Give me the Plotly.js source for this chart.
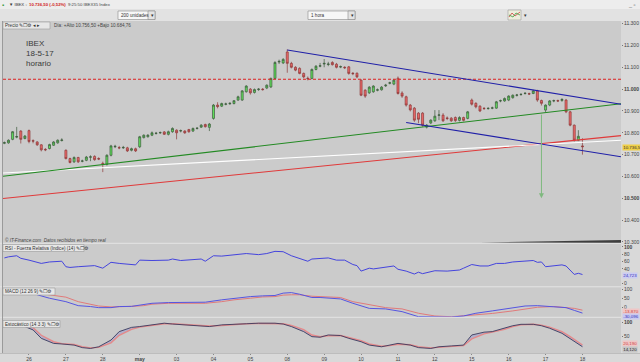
<!DOCTYPE html>
<html><head><meta charset="utf-8">
<script src="https://cdn.plot.ly/plotly-3.0.1.min.js"></script>
<style>html,body{margin:0;padding:0;background:#d9d9d9;}#chart{width:640px;height:362px;}</style>
</head><body><div id="chart"></div>
<script>
// ---------- DATA ----------
const dayLabels = ["26","27","28","may","03","04","05","08","09","10","11","12","15","16","17","18"];
const BARS_PER_DAY = 9;
const FIRST_BAR = -6;   // 6 hourly bars of 25 Apr before the first labelled day

const opens = [10752,10754,10770,10780,10808,10774,
10810,10764,10758,10745,10724,10728,10743,10754,10765,
10720,10682,10667,10687,10670,10674,10688,10692,10682,
10660,10656,10697,10736,10732,10731,10731,10720,10727,
10736,10778,10782,10789,10797,10800,10804,10793,10805,
10812,10808,10808,10815,10808,10820,10826,10838,10825,
10866,10927,10922,10931,10933,10934,10950,10950,10988,
11000,10985,10998,11000,11005,11010,11049,11124,11120,
11170,11118,11100,11095,11072,11050,11049,11090,11105,
11115,11113,11122,11114,11101,11100,11102,11073,11073,
11041,10995,10983,10988,10995,10997,11015,11027,11023,
11050,10982,10965,10927,10913,10890,10890,10826,10845,
10855,10880,10881,10868,10867,10870,10857,10870,10866,
10950,10935,10922,10912,10911,10913,10913,10946,10946,
10950,10961,10972,10975,10980,10979,10980,10992,10948,
10904,10927,10946,10947,10948,10950,10896,10835,10766,
10740];
const highs = [10760,10770,10808,10827,10812,10790,
10815,10770,10762,10748,10730,10750,10762,10770,10775,
10724,10686,10692,10690,10677,10694,10697,10697,10688,
10668,10702,10745,10745,10740,10740,10736,10732,10732,
10786,10793,10794,10806,10804,10806,10808,10810,10825,
10816,10815,10812,10818,10824,10826,10840,10842,10845,
10932,10940,10938,10938,10940,10950,10970,10996,11018,
11005,11003,11005,11005,11022,11053,11128,11135,11142,
11182,11125,11105,11100,11076,11058,11095,11110,11120,
11138,11125,11128,11120,11108,11105,11106,11078,11076,
11045,11000,11014,11018,11003,11014,11024,11034,11046,
11058,10990,10970,10932,10918,10895,10895,10840,10862,
10904,10904,10890,10875,10872,10875,10876,10874,10900,
10957,10940,10926,10918,10917,10920,10946,10952,10962,
10972,10976,10978,10981,10986,10984,10997,10997,10952,
10930,10950,10952,10952,10958,10955,10900,10838,10812,
10775];
const lows = [10748,10750,10766,10775,10751,10770,
10752,10752,10740,10715,10716,10724,10740,10750,10760,
10678,10660,10662,10662,10665,10670,10670,10672,10675,
10620,10650,10692,10730,10725,10726,10712,10715,10712,
10730,10774,10778,10785,10792,10795,10790,10788,10800,
10770,10802,10795,10800,10804,10815,10822,10824,10808,
10860,10912,10918,10926,10928,10930,10946,10946,10984,
10975,10980,10992,10993,11000,11005,11045,11115,11115,
11075,11095,11082,11068,11050,11040,11045,11086,11100,
11100,11105,11108,11095,11096,11092,11066,11064,11050,
10968,10960,10978,10983,10990,10993,11010,11022,11018,
10975,10960,10920,10898,10850,10844,10828,10820,10840,
10850,10858,10850,10858,10850,10850,10852,10852,10862,
10925,10912,10895,10905,10906,10908,10910,10940,10942,
10945,10956,10966,10970,10975,10973,10977,10942,10925,
10895,10922,10940,10941,10942,10890,10830,10760,10762,
10700];
const closes = [10755,10766,10805,10783,10770,10785,
10760,10762,10745,10722,10722,10746,10758,10766,10767,
10682,10664,10687,10667,10671,10689,10690,10677,10680,
10656,10697,10740,10738,10731,10733,10717,10727,10717,
10782,10789,10789,10800,10798,10801,10793,10805,10820,
10800,10810,10800,10805,10820,10821,10835,10828,10840,
10927,10920,10934,10932,10935,10947,10965,10992,11014,
10983,10998,11000,10998,11018,11049,11122,11127,11136,
11118,11100,11087,11072,11056,11048,11090,11105,11107,
11118,11115,11112,11100,11103,11098,11072,11071,11056,
10972,10968,11009,11014,10997,11009,11018,11029,11041,
10980,10968,10927,10905,10858,10862,10835,10835,10858,
10876,10882,10855,10866,10855,10856,10870,10857,10896,
10931,10919,10900,10911,10912,10914,10942,10947,10957,
10968,10972,10973,10976,10981,10978,10992,10950,10935,
10927,10946,10947,10946,10953,10896,10835,10766,10784,
10736.5];

const rsiBars = [-6,-5,-3,-2,0,3,5,8,9,10,12,14,16,18,20,22,24,26,27,30,34,35,37,39,42,43,45,47,50,53,56,58,60,62,64,68,69,71,73,75,77,79,80,81,83,84,87,89,90,92,94,95,96,98,99,102,103,105,106,108,110,112,114,116,118,120,123,124,125,126,128,130,131,133,134,135];
const rsiVals = [70,73,76,69,64,55,59,61,46,44,46,48,49,42,58,55,53,51,64,63,64,67,63,64,67,61,76,75,78,82,79,82,88,87,76,61,67,68,70,64,64,52,49,34,42,40,44,48,39,34,26,31,27,31,35,34,35,37,42,52,48,48,55,55,59,61,63,58,59,46,49,51,48,25,28,24.723];

const macdBars = [2,5,9,12,15,17,20,22,25,28,30,34,38,43,47,50,54,57,60,62,64,66,69,71,76,79,83,87,91,95,99,103,106,109,113,118,121,124,128,131,133,135];
const macdVals = [71,52,33,11,6,0,0,6,7,15,24,28,30,30,43,52,61,65,67,80,83,74,56,56,48,24,-4,-7,-22,-50,-53,-52,-46,-31,-18,0,9,11,6,0,-15,-30.096];
const signalVals = [80,71,58,33,19,9,4,4,7,11,19,24,24,24,33,43,52,59,61,69,71,71,63,61,56,33,15,0,-7,-31,-46,-50,-45,-40,-32,-18,-10,2,6,0,-4,-13.87];

const stochBars = [-1,1,3,6,8,11,13,15,17,20,22,25,27,30,33,35,38,42,44,47,50,53,56,60,62,64,67,69,71,73,76,78,81,83,86,88,90,93,95,98,100,103,106,108,111,113,116,118,120,123,125,127,130,132,135];
const stochK = [86,74,44,26,24,20,11,8,14,38,68,83,86,92,98,95,92,89,86,92,95,96,98,98,95,86,68,50,48,56,54,44,32,20,14,20,26,20,11,8,14,17,20,56,66,68,80,89,94,94,89,80,62,44,14.12];
const stochD = [90,82,55,32,25,22,14,10,12,28,55,76,84,90,96,96,93,90,88,90,94,96,97,98,96,90,75,56,50,53,54,47,36,24,16,18,23,21,14,10,12,15,18,42,60,66,76,86,92,94,91,84,68,50,20.19];

// drawn lines on the price panel: [x0, price0, x1, price1]
const resistLevel = 11045;
const upperChannel = [63, 11179, 144.4, 10931];
const lowerChannel = [92, 10847, 144.4, 10690];
const greenTrend = [-6.34, 10601, 144.4, 10933];
const whiteTrend = [-6.34, 10616, 144.4, 10766];
const redTrend = [-6.34, 10499, 144.4, 10787];
const targetArrow = [125, 10890, 10500];

const priceTicks = [10300,10400,10500,10600,10700,10800,10900,11000,11100,11200,11300];
const lastPrice = "10.736,5";

// ---------- LAYOUT HELPERS ----------
const W = 640, H = 362, ML = 3, MR = 19, MT = 21, MB = 9;
const PW = W - ML - MR, PH = H - MT - MB;
const px = x => (x - ML) / PW;
const py = y => (H - MB - y) / PH;
const bars = opens.map((_, k) => k + FIRST_BAR);
const fmt = n => String(n).replace(/\B(?=(\d{3})+(?!\d))/g, '.');
const FONT = "Liberation Sans, Arial, sans-serif";

const traces = [
  {type:'candlestick', x:bars, open:opens, high:highs, low:lows, close:closes,
   xaxis:'x', yaxis:'y', whiskerwidth:0, hoverinfo:'skip', showlegend:false,
   increasing:{line:{color:'#3d5a3d', width:0.7}, fillcolor:'#5fe05a'},
   decreasing:{line:{color:'#8c3a3a', width:0.7}, fillcolor:'#ec6868'}},
  {type:'scatter', mode:'lines', x:rsiBars, y:rsiVals, xaxis:'x', yaxis:'y2',
   line:{color:'#4444dd', width:1}, hoverinfo:'skip', showlegend:false},
  {type:'scatter', mode:'lines', x:macdBars, y:signalVals, xaxis:'x', yaxis:'y3',
   line:{color:'#e07a7a', width:1}, hoverinfo:'skip', showlegend:false},
  {type:'scatter', mode:'lines', x:macdBars, y:macdVals, xaxis:'x', yaxis:'y3',
   line:{color:'#5555e0', width:1}, hoverinfo:'skip', showlegend:false},
  {type:'scatter', mode:'lines', x:stochBars, y:stochD, xaxis:'x', yaxis:'y4',
   line:{color:'#e58a8a', width:1.4}, hoverinfo:'skip', showlegend:false},
  {type:'scatter', mode:'lines', x:stochBars, y:stochK, xaxis:'x', yaxis:'y4',
   fill:'tonexty', fillcolor:'rgba(80,80,210,0.22)',
   line:{color:'#3a3a5e', width:0.9}, hoverinfo:'skip', showlegend:false}
];

const yBase = {side:'right', anchor:'x', showgrid:false, zeroline:false, showline:false,
  ticks:'outside', ticklen:1, tickcolor:'#777', tickfont:{family:FONT, size:5, color:'#444'}, fixedrange:true};

function seg(c, color, width, dash) {
  return {type:'line', xref:'x', yref:'y', x0:c[0], y0:c[1], x1:c[2], y1:c[3],
          line:{color:color, width:width, dash:dash||'solid'}};
}

const shapes = [
  // toolbar
  {type:'rect', xref:'paper', yref:'paper', x0:px(0), x1:px(640), y0:py(0), y1:py(21), fillcolor:'#ededed', line:{width:0}, layer:'below'},
  {type:'rect', xref:'paper', yref:'paper', x0:px(0), x1:px(640), y0:py(9), y1:py(21), fillcolor:'#e2e2e2', line:{width:0}, layer:'below'},
  {type:'rect', xref:'paper', yref:'paper', x0:px(118), x1:px(155), y0:py(11), y1:py(19.5), fillcolor:'#f7f7f7', line:{color:'#8a8a8a', width:0.6}},
  {type:'rect', xref:'paper', yref:'paper', x0:px(148), x1:px(155), y0:py(11), y1:py(19.5), fillcolor:'#e4e4e4', line:{color:'#8a8a8a', width:0.6}},
  {type:'rect', xref:'paper', yref:'paper', x0:px(308), x1:px(355), y0:py(11), y1:py(19.5), fillcolor:'#f7f7f7', line:{color:'#8a8a8a', width:0.6}},
  {type:'rect', xref:'paper', yref:'paper', x0:px(348), x1:px(355), y0:py(11), y1:py(19.5), fillcolor:'#e4e4e4', line:{color:'#8a8a8a', width:0.6}},
  {type:'rect', xref:'paper', yref:'paper', x0:px(508), x1:px(521), y0:py(10), y1:py(20), fillcolor:'#eeeedd', line:{color:'#9a9a9a', width:0.6}},
  {type:'path', xref:'paper', yref:'paper', path:`M ${px(509)},${py(17)} L ${px(512)},${py(13)} L ${px(515)},${py(16)} L ${px(520)},${py(12)}`, line:{color:'#d04040', width:0.8}},
  {type:'path', xref:'paper', yref:'paper', path:`M ${px(509)},${py(15)} L ${px(513)},${py(17)} L ${px(516)},${py(13)} L ${px(520)},${py(15)}`, line:{color:'#40a040', width:0.8}},
  // panel borders / separators
  {type:'line', xref:'paper', yref:'paper', x0:px(0), x1:px(621), y0:py(243.3), y1:py(243.3), line:{color:'#e4e4e4', width:1}},
  {type:'line', xref:'paper', yref:'paper', x0:px(0), x1:px(621), y0:py(286.8), y1:py(286.8), line:{color:'#e4e4e4', width:1}},
  {type:'line', xref:'paper', yref:'paper', x0:px(0), x1:px(621), y0:py(317.3), y1:py(317.3), line:{color:'#e4e4e4', width:1}},
  {type:'line', xref:'paper', yref:'paper', x0:px(2.5), x1:px(2.5), y0:py(21), y1:py(353), line:{color:'#9a9a9a', width:1}},
  {type:'line', xref:'paper', yref:'paper', x0:px(0), x1:px(640), y0:py(353.5), y1:py(353.5), line:{color:'#bdbdbd', width:1}},
  // drawings on price panel
  {type:'line', xref:'paper', yref:'y', x0:0, x1:1, y0:resistLevel, y1:resistLevel, line:{color:'#dd2020', width:1.1, dash:'3px,2px'}},
  seg(redTrend, '#e03a3a', 1.1),
  seg(whiteTrend, '#ffffff', 1.1),
  seg(greenTrend, '#238a23', 1.1),
  seg(upperChannel, '#2020a8', 1.1),
  seg(lowerChannel, '#2020a8', 1.1),
  {type:'path', xref:'x', yref:'y', path:`M 110,10298 L 144.4,10309.5 L 144.4,10297 Z`, fillcolor:'#262626', opacity:0.85, line:{width:0}},
  // header boxes
  {type:'rect', xref:'paper', yref:'paper', x0:px(3), x1:px(50), y0:py(22), y1:py(29), fillcolor:'#e6e6e6', line:{color:'#9a9a9a', width:0.6}},
  {type:'rect', xref:'paper', yref:'paper', x0:px(3), x1:px(84), y0:py(244.5), y1:py(251.5), fillcolor:'#e6e6e6', line:{color:'#9a9a9a', width:0.6}},
  {type:'rect', xref:'paper', yref:'paper', x0:px(3), x1:px(55), y0:py(288), y1:py(295), fillcolor:'#e6e6e6', line:{color:'#9a9a9a', width:0.6}},
  {type:'rect', xref:'paper', yref:'paper', x0:px(3), x1:px(60), y0:py(320.5), y1:py(327.5), fillcolor:'#e6e6e6', line:{color:'#9a9a9a', width:0.6}}
];

function txt(x, y, text, size, color, extra) {
  return Object.assign({xref:'paper', yref:'paper', x:px(x), y:py(y), text:text, showarrow:false,
    xanchor:'left', yanchor:'middle', font:{family:FONT, size:size, color:color}, borderpad:0}, extra||{});
}
function valBox(y, text, bg, color) {
  return txt(622, y, text, 4.4, color, {bgcolor:bg, borderpad:0.2});
}

const annotations = [
  txt(1, 4.5, '<b>▪</b>', 6, '#3a9a3a'),
  txt(8, 4.5, '▼ IBEX ▫', 4.3, '#333'),
  txt(28, 4.5, '<b>10.736,50 (-0,52%)</b>', 4.3, '#d02020'),
  txt(67, 4.5, '9:25:50 IBEX35 Index', 4.3, '#444'),
  txt(627, 4.5, '_ ▫', 5.5, '#666'),
  txt(120, 15.3, '200 unidades', 4.6, '#333'),
  txt(149.5, 15.3, '▾', 5, '#333'),
  txt(310, 15.3, '1 hora', 4.6, '#333'),
  txt(349.5, 15.3, '▾', 5, '#333'),
  txt(523, 15.3, '▾', 5, '#333'),
  txt(4, 25.5, 'Precio ✎☐⚙ ◂ ▸', 4.6, '#333'),
  txt(53, 25.5, 'Día: +Alto 10.756,50 +Bajo 10.684,76', 4.6, '#444'),
  txt(25, 44, 'IBEX', 8, '#3a3a3a'),
  txt(25, 53.7, '18-5-17', 8, '#3a3a3a'),
  txt(25, 63.3, 'horario', 8, '#3a3a3a'),
  txt(4, 240, '<i>© IT-Finance.com  Datos recibidos en tiempo real</i>', 4.6, '#444'),
  txt(4, 248, 'RSI - Fuerza Relativa (Indice) (14) ✎☐⚙', 4.6, '#333'),
  txt(4, 291.5, 'MACD (12 26 9) ✎☐⚙', 4.6, '#333'),
  txt(4, 324, 'Estocástico (14 3 3) ✎☐⚙', 4.6, '#333'),
  valBox(147.3, lastPrice, '#f0d048', '#333'),
  valBox(275.7, '24,723', '#ccccf2', '#3333bb'),
  valBox(311.4, '-13,870', '#f0c6c6', '#cc4444'),
  valBox(316.6, '-30,096', '#c9c9f0', '#3333bb'),
  valBox(343.8, '20,190', '#f0c6c6', '#cc4444'),
  valBox(349.4, '14,120', '#c6c6c6', '#222'),
  {xref:'x', yref:'y', axref:'x', ayref:'y', x:targetArrow[0], y:targetArrow[2], ax:targetArrow[0], ay:targetArrow[1],
   text:'', showarrow:true, arrowhead:2, arrowsize:1, arrowwidth:1, arrowcolor:'#7fb97f'}
];

const layout = {
  width:W, height:H, margin:{l:ML, r:MR, t:MT, b:MB, pad:0},
  paper_bgcolor:'#d9d9d9', plot_bgcolor:'#cbcbcb', separators:',.',
  showlegend:false, dragmode:false, hovermode:false,
  xaxis:{range:[-6.34, 144.4], anchor:'y4', tickvals:dayLabels.map((_, k) => k * BARS_PER_DAY),
    ticktext:dayLabels.map(d => d === 'may' ? '<b>may</b>' : d), tickfont:{family:FONT, size:5, color:'#444'},
    ticks:'outside', ticklen:1, tickcolor:'#888', showgrid:false, zeroline:false, showline:false,
    rangeslider:{visible:false}, fixedrange:true},
  yaxis:Object.assign({}, yBase, {domain:[py(243.3), 1], range:[10294, 11312],
    tickvals:priceTicks, ticktext:priceTicks.map(v => (v === 11000 || v === 10500) ? '<b>' + fmt(v) + '</b>' : fmt(v))}),
  yaxis2:Object.assign({}, yBase, {domain:[py(286.8), py(243.3)], range:[-8.9, 110],
    tickvals:[0,40,60,80,100], ticktext:['0','40','60','80','<b>100</b>']}),
  yaxis3:Object.assign({}, yBase, {domain:[py(317.3), py(286.8)], range:[-53.3, 115],
    tickvals:[0,50,100], ticktext:['0','50','100']}),
  yaxis4:Object.assign({}, yBase, {domain:[0, py(317.3)], range:[-8.2, 119],
    tickvals:[50,100], ticktext:['50','<b>100</b>']}),
  shapes:shapes, annotations:annotations
};

Plotly.newPlot('chart', traces, layout, {staticPlot:true, displayModeBar:false});
</script>
</body></html>
